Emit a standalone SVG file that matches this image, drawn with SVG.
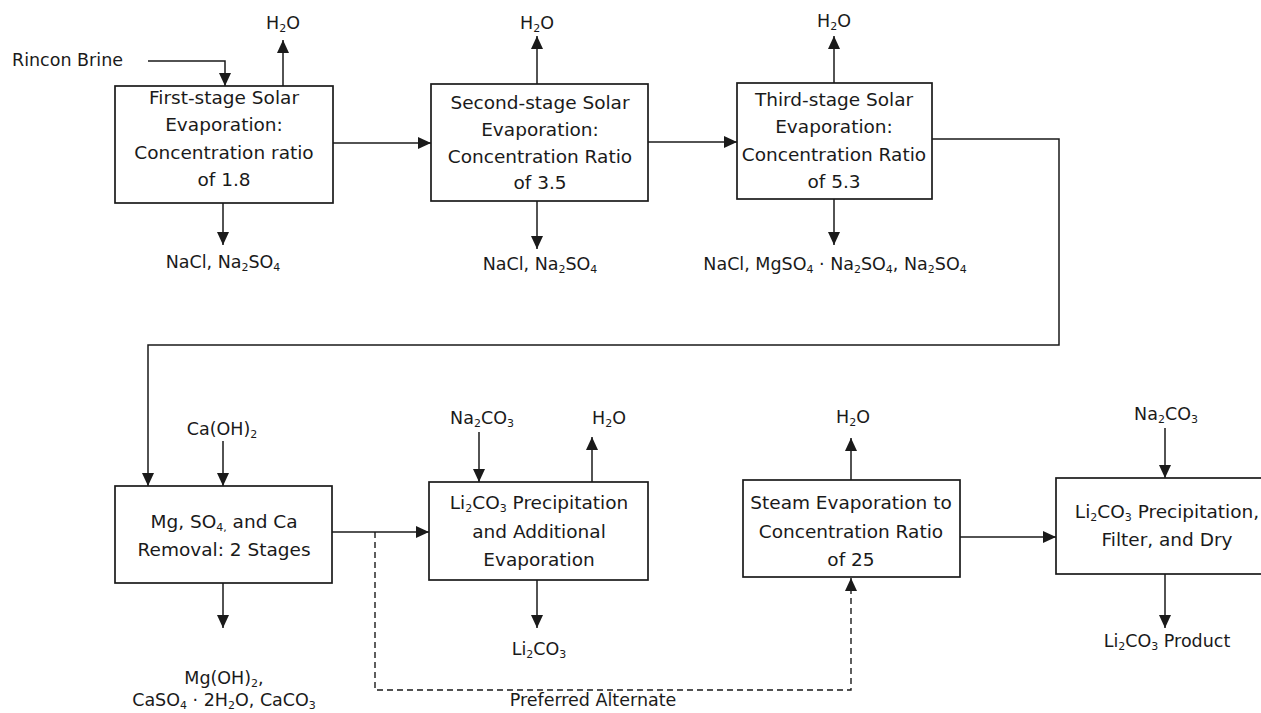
<svg xmlns="http://www.w3.org/2000/svg" width="1261" height="713" viewBox="0 0 1261 713">
<style>
.box{fill:#fff;stroke:#1a1a1a;stroke-width:1.7}
.c{fill:none;stroke:#1a1a1a;stroke-width:1.5}
.d{fill:none;stroke:#1a1a1a;stroke-width:1.4;stroke-dasharray:6 4}
text{font-family:"DejaVu Sans","Open Sans",sans-serif;fill:#1a1a1a}
.t{font-size:18.5px;text-anchor:middle}
.l{font-size:17.5px;text-anchor:middle}
.s{font-size:11px}
</style>
<defs>
<marker id="ah" markerUnits="userSpaceOnUse" markerWidth="14" markerHeight="12" refX="13" refY="6" orient="auto">
<path d="M0,0 L13,6 L0,12 z" fill="#1a1a1a"/>
</marker>
</defs>
<rect width="1261" height="713" fill="#fff"/>
<g id="connectors">
<path class="c" d="M148,61 H225 V86" marker-end="url(#ah)"/>
<path class="c" d="M283,86 V40" marker-end="url(#ah)"/>
<path class="c" d="M223,203 V245" marker-end="url(#ah)"/>
<path class="c" d="M333,143 H431" marker-end="url(#ah)"/>
<path class="c" d="M537,84 V36" marker-end="url(#ah)"/>
<path class="c" d="M537,201 V249" marker-end="url(#ah)"/>
<path class="c" d="M648,142 H737" marker-end="url(#ah)"/>
<path class="c" d="M834,83 V36" marker-end="url(#ah)"/>
<path class="c" d="M834,199 V245" marker-end="url(#ah)"/>
<path class="c" d="M932,139 H1059 V345 H148 V486" marker-end="url(#ah)"/>
<path class="c" d="M223,441 V486" marker-end="url(#ah)"/>
<path class="c" d="M223,583 V628" marker-end="url(#ah)"/>
<path class="c" d="M332,532 H429" marker-end="url(#ah)"/>
<path class="d" d="M375,532 V690 H851 V578" marker-end="url(#ah)"/>
<path class="c" d="M479,432 V482" marker-end="url(#ah)"/>
<path class="c" d="M592,482 V437" marker-end="url(#ah)"/>
<path class="c" d="M537,580 V628" marker-end="url(#ah)"/>
<path class="c" d="M851,480 V438" marker-end="url(#ah)"/>
<path class="c" d="M960,537 H1056" marker-end="url(#ah)"/>
<path class="c" d="M1165,428 V478" marker-end="url(#ah)"/>
<path class="c" d="M1165,574 V628" marker-end="url(#ah)"/>
</g>
<g id="labels">
<text x="12" y="66" font-size="17.5px">Rincon Brine</text>
<text class="l" x="283" y="29">H<tspan class="s" dy="3">2</tspan><tspan dy="-3">O</tspan></text>
<text class="l" x="537" y="29">H<tspan class="s" dy="3">2</tspan><tspan dy="-3">O</tspan></text>
<text class="l" x="834" y="27">H<tspan class="s" dy="3">2</tspan><tspan dy="-3">O</tspan></text>
<text class="l" x="223" y="268">NaCl, Na<tspan class="s" dy="3">2</tspan><tspan dy="-3">SO</tspan><tspan class="s" dy="3">4</tspan></text>
<text class="l" x="540" y="270">NaCl, Na<tspan class="s" dy="3">2</tspan><tspan dy="-3">SO</tspan><tspan class="s" dy="3">4</tspan></text>
<text class="l" x="835" y="270" font-size="16.5px">NaCl, MgSO<tspan class="s" dy="3">4</tspan><tspan dy="-3"> · Na</tspan><tspan class="s" dy="3">2</tspan><tspan dy="-3">SO</tspan><tspan class="s" dy="3">4</tspan><tspan dy="-3">, Na</tspan><tspan class="s" dy="3">2</tspan><tspan dy="-3">SO</tspan><tspan class="s" dy="3">4</tspan></text>
<text class="l" x="222" y="435">Ca(OH)<tspan class="s" dy="3">2</tspan></text>
<text class="l" x="224" y="684">Mg(OH)<tspan class="s" dy="3">2</tspan><tspan dy="-3">,</tspan></text>
<text class="l" x="224" y="706">CaSO<tspan class="s" dy="3">4</tspan><tspan dy="-3"> · 2H</tspan><tspan class="s" dy="3">2</tspan><tspan dy="-3">O, CaCO</tspan><tspan class="s" dy="3">3</tspan></text>
<text class="l" x="482" y="424">Na<tspan class="s" dy="3">2</tspan><tspan dy="-3">CO</tspan><tspan class="s" dy="3">3</tspan></text>
<text class="l" x="609" y="424">H<tspan class="s" dy="3">2</tspan><tspan dy="-3">O</tspan></text>
<text class="l" x="539" y="655">Li<tspan class="s" dy="3">2</tspan><tspan dy="-3">CO</tspan><tspan class="s" dy="3">3</tspan></text>
<text class="l" x="593" y="706">Preferred Alternate</text>
<text class="l" x="853" y="423">H<tspan class="s" dy="3">2</tspan><tspan dy="-3">O</tspan></text>
<text class="l" x="1166" y="420">Na<tspan class="s" dy="3">2</tspan><tspan dy="-3">CO</tspan><tspan class="s" dy="3">3</tspan></text>
<text class="l" x="1167" y="647">Li<tspan class="s" dy="3">2</tspan><tspan dy="-3">CO</tspan><tspan class="s" dy="3">3</tspan><tspan dy="-3"> Product</tspan></text>
</g>
<g id="node1">
<rect class="box" x="115" y="86" width="218" height="117"/>
<text class="t" x="224" y="104">First-stage Solar</text>
<text class="t" x="224" y="131">Evaporation:</text>
<text class="t" x="224" y="159">Concentration ratio</text>
<text class="t" x="224" y="186">of 1.8</text>
</g>
<g id="node2">
<rect class="box" x="431" y="84" width="217" height="117"/>
<text class="t" x="540" y="109">Second-stage Solar</text>
<text class="t" x="540" y="136">Evaporation:</text>
<text class="t" x="540" y="163">Concentration Ratio</text>
<text class="t" x="540" y="189">of 3.5</text>
</g>
<g id="node3">
<rect class="box" x="737" y="83" width="195" height="116"/>
<text class="t" x="834" y="106">Third-stage Solar</text>
<text class="t" x="834" y="133">Evaporation:</text>
<text class="t" x="834" y="161">Concentration Ratio</text>
<text class="t" x="834" y="188">of 5.3</text>
</g>
<g id="node4">
<rect class="box" x="115" y="486" width="217" height="97"/>
<text class="t" x="224" y="528">Mg, SO<tspan class="s" dy="3">4,</tspan><tspan dy="-3"> and Ca</tspan></text>
<text class="t" x="224" y="556">Removal: 2 Stages</text>
</g>
<g id="node5">
<rect class="box" x="429" y="482" width="219" height="98"/>
<text class="t" x="539" y="509">Li<tspan class="s" dy="3">2</tspan><tspan dy="-3">CO</tspan><tspan class="s" dy="3">3</tspan><tspan dy="-3"> Precipitation</tspan></text>
<text class="t" x="539" y="538">and Additional</text>
<text class="t" x="539" y="566">Evaporation</text>
</g>
<g id="node6">
<rect class="box" x="743" y="480" width="217" height="97"/>
<text class="t" x="851" y="509">Steam Evaporation to</text>
<text class="t" x="851" y="538">Concentration Ratio</text>
<text class="t" x="851" y="566">of 25</text>
</g>
<g id="node7">
<rect class="box" x="1056" y="478" width="230" height="96"/>
<text class="t" x="1167" y="518">Li<tspan class="s" dy="3">2</tspan><tspan dy="-3">CO</tspan><tspan class="s" dy="3">3</tspan><tspan dy="-3"> Precipitation,</tspan></text>
<text class="t" x="1167" y="546">Filter, and Dry</text>
</g>
</svg>
